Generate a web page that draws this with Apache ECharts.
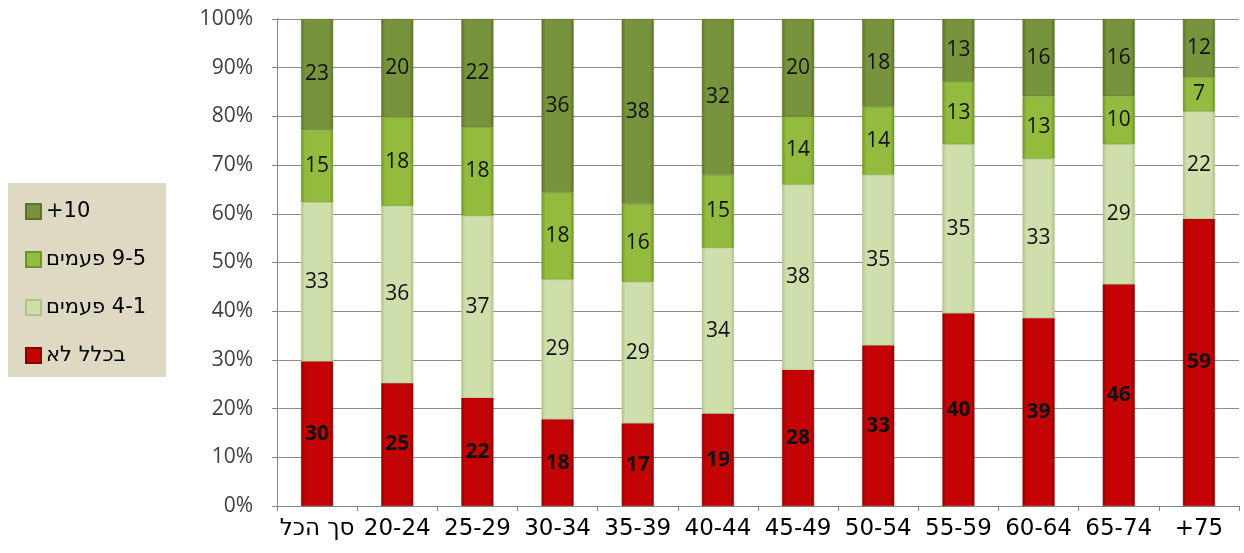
<!DOCTYPE html>
<html>
<head>
<meta charset="utf-8">
<script src="https://cdn.jsdelivr.net/npm/echarts@6/dist/echarts.min.js"></script>
<style>
html,body{margin:0;padding:0;background:#fff;}
#chart{width:1244px;height:553px;}
</style>
</head>
<body>
<div id="chart"></div>
<script>
// ---- data ----
const categories = ['סך הכל', '20-24', '25-29', '30-34', '35-39', '40-44', '45-49', '50-54', '55-59', '60-64', '65-74', '+75'];
const seriesNames = ['+10', 'פעמים \u200E9-5', 'פעמים \u200E4-1', 'בכלל לא'];
const notAtAll   = [30, 25, 22, 18, 17, 19, 28, 33, 40, 39, 46, 59];
const oneToFour  = [33, 36, 37, 29, 29, 34, 38, 35, 35, 33, 29, 22];
const fiveToNine = [15, 18, 18, 18, 16, 15, 14, 14, 13, 13, 10, 7];
const tenPlus    = [23, 20, 22, 36, 38, 32, 20, 18, 13, 16, 16, 12];
const yTickValues = [0, 10, 20, 30, 40, 50, 60, 70, 80, 90, 100];

const totals = categories.map((c, i) => notAtAll[i] + oneToFour[i] + fiveToNine[i] + tenPlus[i]);
function pctData(arr) {
  return arr.map((v, i) => ({ value: v / totals[i] * 100, raw: v }));
}
function grad(edge, base) {
  return new echarts.graphic.LinearGradient(0, 0, 1, 0, [
    { offset: 0, color: edge }, { offset: 0.12, color: base },
    { offset: 0.88, color: base }, { offset: 1, color: edge }
  ]);
}
const labelFont = 'Open Sans';
function mkSeries(name, arr, edge, base, bold) {
  return {
    name: name,
    type: 'bar',
    stack: 'all',
    barWidth: '40%',
    data: pctData(arr),
    itemStyle: { color: grad(edge, base), borderColor: edge, borderWidth: 0.5 },
    label: {
      show: true, position: 'inside',
      formatter: p => String(p.data.raw),
      fontFamily: labelFont, fontSize: 21,
      fontWeight: bold ? 'bold' : 'normal',
      color: '#111'
    },
    emphasis: { disabled: true }
  };
}

const chart = echarts.init(document.getElementById('chart'), null, { renderer: 'canvas' });
chart.setOption({
  animation: false,
  backgroundColor: '#ffffff',
  grid: { left: 277, right: 5, top: 19, bottom: 47, containLabel: false },
  graphic: [{
    type: 'rect', left: 8, top: 183, z: -1,
    shape: { width: 158, height: 194 },
    style: { fill: '#DDD9C3' }
  }],
  legend: {
    orient: 'vertical',
    left: 20, top: 196,
    itemWidth: 15, itemHeight: 15, itemGap: 27,
    icon: 'rect',
    data: seriesNames,
    textStyle: { fontFamily: 'DejaVu Sans', fontSize: 21, color: '#000' }
  },
  xAxis: {
    type: 'category',
    data: categories,
    axisLine: { lineStyle: { color: '#868686', width: 1 } },
    axisTick: { show: true, length: 5, lineStyle: { color: '#868686' } },
    axisLabel: { fontFamily: 'DejaVu Sans', fontSize: 23, color: '#000', margin: 12, interval: 0 }
  },
  yAxis: {
    type: 'value',
    min: yTickValues[0], max: yTickValues[yTickValues.length - 1], interval: 10,
    axisLine: { show: true, lineStyle: { color: '#868686', width: 1 } },
    axisTick: { show: true, length: 5, lineStyle: { color: '#868686' } },
    splitLine: { show: true, lineStyle: { color: '#8C8C8C', width: 1 } },
    axisLabel: { formatter: '{value}%', fontFamily: labelFont, fontSize: 21, color: '#404040', margin: 24 }
  },
  series: [
    mkSeries(seriesNames[3], notAtAll, '#8E0000', '#C40404', true),
    mkSeries(seriesNames[2], oneToFour, '#AFC388', '#CEDFAC', false),
    mkSeries(seriesNames[1], fiveToNine, '#6E9428', '#93BC3E', false),
    mkSeries(seriesNames[0], tenPlus, '#5A7229', '#77933C', false)
  ]
});
</script>
</body>
</html>
